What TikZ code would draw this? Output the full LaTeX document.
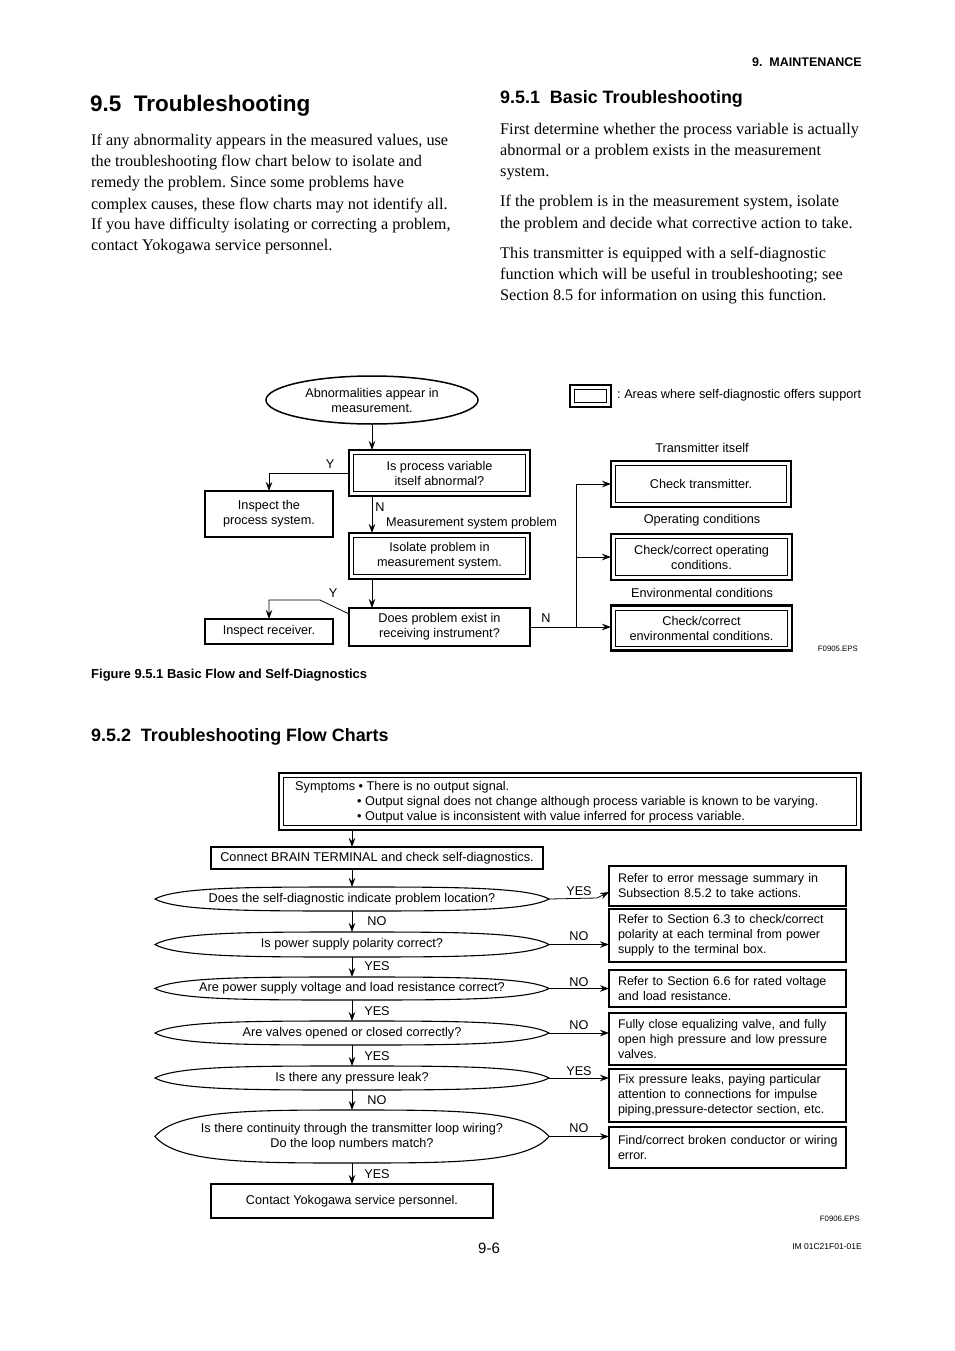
\documentclass[tikz,border=0pt]{standalone}
\usepackage{fontspec}
\setmainfont{Liberation Sans}
\newfontfamily\bodyserif{Liberation Serif}
\usetikzlibrary{arrows.meta,shapes.geometric}
\frenchspacing

\tikzset{
  fc/.style={font=\fontsize{12.7}{15}\selectfont, inner sep=0pt, align=center},
  sbox/.style={fc, draw, line width=1.8pt, outer sep=0pt},
  dbox/.style={fc, draw, line width=2.4pt, outer sep=0pt},
  rbox/.style={draw, line width=1.8pt, outer sep=0pt, font=\fontsize{12.5}{15}\selectfont,
               align=left, inner xsep=9pt, inner ysep=0pt, text width=219pt},
  arr/.style={line width=0.8pt, -{Stealth[length=9pt,width=6.5pt,inset=3pt]}},
  ln/.style={line width=0.8pt},
  lbl/.style={font=\fontsize{12.7}{15}\selectfont, inner sep=0pt},
  body/.style={font=\bodyserif\fontsize{16.25}{21}\selectfont, inner sep=0pt, anchor=base west},
  head/.style={font=\bfseries, inner sep=0pt, anchor=base west},
}

\newcommand\mydbox[6]{%
  \node[dbox, minimum width=#4pt, minimum height=#5pt] (#1) at (#2,#3) {#6};
  \draw[line width=0.8pt] ([shift={(4.4,4.4)}]#1.north west) rectangle ([shift={(-4.4,-4.4)}]#1.south east);}

\newcommand\mylens[6]{%
  \node[fc, minimum width=#4pt, minimum height=#5pt, outer sep=0pt] (#1) at (#2,#3) {#6};
  \draw[line width=1.1pt] (#1.west) .. controls ([xshift=22pt]#1.north west) and ([xshift=-100pt]#1.north) .. (#1.north)
    .. controls ([xshift=100pt]#1.north) and ([xshift=-22pt]#1.north east) .. (#1.east)
    .. controls ([xshift=-22pt]#1.south east) and ([xshift=100pt]#1.south) .. (#1.south)
    .. controls ([xshift=-100pt]#1.south) and ([xshift=22pt]#1.south west) .. (#1.west) -- cycle;}

\begin{document}
\begin{tikzpicture}[x=1pt,y=-1pt]
\path[use as bounding box, fill=white] (0,0) rectangle (954,1351);

% ---------- page text ----------
\node[head, font=\bfseries\fontsize{12.5}{14}\selectfont, anchor=base east] (hdr) at (862,66.5) {9.\ \ MAINTENANCE};
\node[head, font=\bfseries\fontsize{22.5}{26}\selectfont] (title) at (90,112) {9.5\ \ Troubleshooting};
\node[head, font=\bfseries\fontsize{17.9}{21}\selectfont] (h951) at (500,104) {9.5.1\ \ Basic Troubleshooting};
\node[head, font=\bfseries\fontsize{17.9}{21}\selectfont] (h952) at (91,741) {9.5.2\ \ Troubleshooting Flow Charts};
\node[head, font=\bfseries\fontsize{13}{15}\selectfont] (cap) at (91,678) {Figure 9.5.1 Basic Flow and Self-Diagnostics};

\node[body] (l1) at (91,146) {If any abnormality appears in the measured values, use};
\node[body] (l2) at (91,167) {the troubleshooting flow chart below to isolate and};
\node[body] (l3) at (91,188) {remedy the problem. Since some problems have};
\node[body] (l4) at (91,209) {complex causes, these flow charts may not identify all.};
\node[body] (l5) at (91,229.5) {If you have difficulty isolating or correcting a problem,};
\node[body] (l6) at (91,250.5) {contact Yokogawa service personnel.};

\node[body] (r1) at (500,135) {First determine whether the process variable is actually};
\node[body] (r2) at (500,156) {abnormal or a problem exists in the measurement};
\node[body] (r3) at (500,177) {system.};
\node[body] (r4) at (500,207) {If the problem is in the measurement system, isolate};
\node[body] (r5) at (500,228) {the problem and decide what corrective action to take.};
\node[body] (r6) at (500,258) {This transmitter is equipped with a self-diagnostic};
\node[body] (r7) at (500,279) {function which will be useful in troubleshooting; see};
\node[body] (r8) at (500,300) {Section 8.5 for information on using this function.};

\node[inner sep=0pt, anchor=base, font=\fontsize{15}{18}\selectfont] (pg) at (489,1253.5) {9-6};
\node[inner sep=0pt, anchor=base east, font=\fontsize{8.5}{10}\selectfont] (im) at (862,1249) {IM 01C21F01-01E};

% ---------- Figure 9.5.1 ----------
\node[fc, draw, ellipse, line width=1.5pt, minimum width=212pt, minimum height=48pt] (abn) at (372,400) {Abnormalities appear in\\measurement.};
\mydbox{leg}{590.5}{396}{41}{22}{}
\node[lbl, anchor=west] (legt) at (617,395) {: Areas where self-diagnostic offers support};

\mydbox{q1}{439.5}{473}{181}{46}{Is process variable\\itself abnormal?}
\node[sbox, minimum width=128pt, minimum height=46pt] (insp) at (269,514) {Inspect the\\process system.};
\mydbox{iso}{439.5}{556}{181}{46}{Isolate problem in\\measurement system.}
\node[sbox, minimum width=181pt, minimum height=38pt] (q2) at (439.5,627) {Does problem exist in\\receiving instrument?};
\node[sbox, minimum width=128pt, minimum height=25pt] (recv) at (269,631.5) {Inspect receiver.};

\mydbox{chk}{701}{484}{180}{46}{Check transmitter.}
\mydbox{opc}{701.5}{557}{181}{46}{Check/correct operating\\conditions.}
\mydbox{env}{701.5}{628}{181}{45}{Check/correct\\environmental conditions.}

\node[lbl] (tY1) at (330,464) {Y};
\node[lbl] (tN1) at (380,507) {N};
\node[lbl, anchor=west] (tmsp) at (386,523) {Measurement system problem};
\node[lbl] (tY2) at (333,593) {Y};
\node[lbl] (tN2) at (546,618) {N};
\node[lbl] (tti) at (702,448) {Transmitter itself};
\node[lbl] (toc) at (702,520) {Operating conditions};
\node[lbl] (tec) at (702,593) {Environmental conditions};
\node[inner sep=0pt, anchor=base east, font=\fontsize{7.8}{9}\selectfont] (f905) at (858,651) {F0905.EPS};

\draw[arr] (abn.south) -- (abn.south |- q1.north);
\draw[arr] (q1.west) -| (insp.north);
\draw[arr] (abn.south |- q1.south) -- (abn.south |- iso.north);
\draw[arr] (abn.south |- iso.south) -- (abn.south |- q2.north);
\coordinate (ybend) at (320,600);
\draw[arr] ([yshift=-6pt]q2.north west) -- (ybend) -| (recv.north);
\coordinate (bus) at (576,484);
\draw[ln] (q2.east) -| (bus);
\draw[arr] (bus) -- (chk.west);
\draw[arr] (bus |- opc.west) -- (opc.west);
\draw[arr] (bus |- q2.east) -- (env.west |- q2.east);

% ---------- Flow chart 9.5.2 ----------
\mydbox{sym}{570}{801.5}{582}{57}{}
\node[lbl, anchor=base west] (s1) at (295,790) {Symptoms \textbullet\ There is no output signal.};
\node[lbl, anchor=base west] (s2) at (357,805) {\textbullet\ Output signal does not change although process variable is known to be varying.};
\node[lbl, anchor=base west] (s3) at (357,820) {\textbullet\ Output value is inconsistent with value inferred for process variable.};

\node[sbox, line width=1.4pt, minimum width=332pt, minimum height=22pt] (con) at (377,858) {Connect BRAIN TERMINAL and check self-diagnostics.};

\mylens{e1}{352}{899}{394}{24}{Does the self-diagnostic indicate problem location?}
\mylens{e2}{352}{944.5}{394}{25}{Is power supply polarity correct?}
\mylens{e3}{352}{988.5}{394}{23}{Are power supply voltage and load resistance correct?}
\mylens{e4}{352}{1033}{394}{24}{Are valves opened or closed correctly?}
\mylens{e5}{352}{1078}{394}{24}{Is there any pressure leak?}
\mylens{e6}{352}{1136.5}{394}{53}{Is there continuity through the transmitter loop wiring?\\Do the loop numbers match?}

\node[sbox, line width=1.2pt, minimum width=282pt, minimum height=34pt] (ctc) at (352,1201) {Contact Yokogawa service personnel.};

\node[rbox, minimum height=40pt] (b1) at (727.5,886) {Refer to error message summary in\\Subsection 8.5.2 to take actions.};
\node[rbox, minimum height=53pt] (b2) at (727.5,935.5) {Refer to Section 6.3 to check/correct\\polarity at each terminal from power\\supply to the terminal box.};
\node[rbox, minimum height=37pt] (b3) at (727.5,988.5) {Refer to Section 6.6 for rated voltage\\and load resistance.};
\node[rbox, minimum height=52pt] (b4) at (727.5,1039) {Fully close equalizing valve, and fully\\open high pressure and low pressure\\valves.};
\node[rbox, minimum height=53pt] (b5) at (727.5,1095.5) {Fix pressure leaks, paying particular\\attention to connections for impulse\\piping,pressure-detector section, etc.};
\node[rbox, minimum height=41pt] (b6) at (727.5,1147.5) {\mbox{Find/correct broken conductor or wiring}\\error.};

\draw[arr] (e1.north |- sym.south) -- (e1.north |- con.north);
\draw[arr] (e1.north |- con.south) -- (e1.north);
\draw[arr] (e1.south) -- (e2.north);
\draw[arr] (e2.south) -- (e3.north);
\draw[arr] (e3.south) -- (e4.north);
\draw[arr] (e4.south) -- (e5.north);
\draw[arr] (e5.south) -- (e6.north);
\draw[arr] (e6.south) -- (ctc.north);

\coordinate (yb1) at (597,898);
\draw[arr] (e1.east) -- (yb1) -- ([yshift=-6pt]b1.west);
\draw[arr] (e2.east) -- (b2.west |- e2.east);
\draw[arr] (e3.east) -- (b3.west |- e3.east);
\draw[arr] (e4.east) -- (b4.west |- e4.east);
\draw[arr] (e5.east) -- (b5.west |- e5.east);
\draw[arr] (e6.east) -- (b6.west |- e6.east);

\node[lbl] (n1) at (377,921) {NO};
\node[lbl] (n2) at (377,966) {YES};
\node[lbl] (n3) at (377,1011) {YES};
\node[lbl] (n4) at (377,1056) {YES};
\node[lbl] (n5) at (377,1100) {NO};
\node[lbl] (n6) at (377,1174) {YES};
\node[lbl] (m1) at (579,891) {YES};
\node[lbl] (m2) at (579,936) {NO};
\node[lbl] (m3) at (579,982) {NO};
\node[lbl] (m4) at (579,1025) {NO};
\node[lbl] (m5) at (579,1071) {YES};
\node[lbl] (m6) at (579,1128) {NO};
\node[inner sep=0pt, anchor=base east, font=\fontsize{7.8}{9}\selectfont] (f906) at (860,1221) {F0906.EPS};
\end{tikzpicture}
\end{document}
